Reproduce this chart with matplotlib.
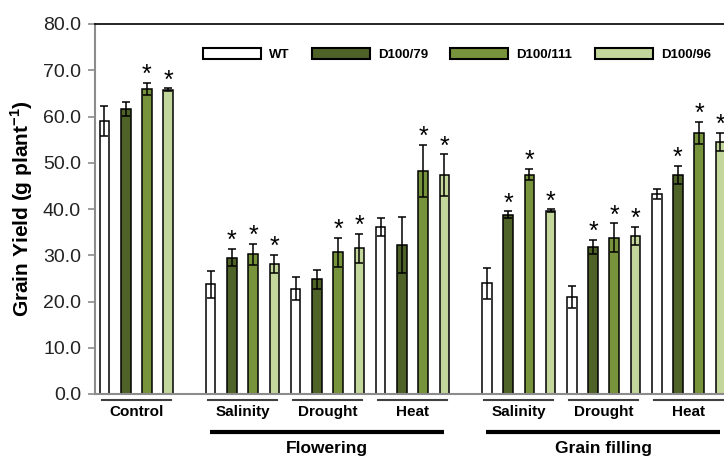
import numpy as np
import matplotlib
matplotlib.use("Agg")
import matplotlib.pyplot as plt
from matplotlib.patches import Patch

plt.rcParams["font.family"] = ["Liberation Sans", "DejaVu Sans"]
plt.rcParams["mathtext.fontset"] = "custom"
plt.rcParams["mathtext.bf"] = "Liberation Sans:bold"
plt.rcParams["mathtext.rm"] = "Liberation Sans"

# conditions (control + stress at two stages)
conditions = ["Control", "Salinity", "Drought", "Heat", "Salinity", "Drought", "Heat"]
stages = ["Flowering", "Grain filling"]
lines = ["WT", "D100/79", "D100/111", "D100/96"]

wt = [59.0, 23.7, 22.8, 36.1, 23.9, 21.0, 43.3]
wt_err = [3.2, 3.0, 2.5, 2.0, 3.4, 2.4, 1.1]
d79 = [61.7, 29.5, 24.8, 32.2, 38.8, 31.8, 47.3]
d79_err = [1.5, 1.8, 2.1, 6.1, 0.7, 1.6, 2.0]
d111 = [66.0, 30.2, 30.6, 48.2, 47.4, 33.8, 56.4]
d111_err = [1.3, 2.2, 3.2, 5.7, 1.2, 3.1, 2.4]
d96 = [65.8, 28.1, 31.5, 47.3, 39.6, 34.2, 54.5]
d96_err = [0.3, 1.9, 3.1, 4.5, 0.3, 1.9, 1.9]

# significance stars (1 = marked)
sig_wt = [0, 0, 0, 0, 0, 0, 0]
sig79 = [0, 1, 0, 0, 1, 1, 1]
sig111 = [1, 1, 1, 1, 1, 1, 1]
sig96 = [1, 1, 1, 1, 1, 1, 1]

colors = ["#ffffff", "#4f6228", "#77933c", "#c3d69b"]

values = [wt, d79, d111, d96]
errors = [wt_err, d79_err, d111_err, d96_err]
sigs = [sig_wt, sig79, sig111, sig96]

# slot index of the first bar in each condition group (empty slot after control and after flowering)
group_start = np.array([0, 5, 9, 13, 18, 22, 26])

fig = plt.figure(figsize=(7.24, 4.57), dpi=100)
ax = fig.add_axes([95 / 724, 63 / 457, 646.7 / 724, 370 / 457])

bw = 0.45
for k in range(4):
    x = group_start + k
    ax.bar(x, values[k], width=bw, color=colors[k], edgecolor="black",
           linewidth=1.1, zorder=2)
    ax.errorbar(x, values[k], yerr=errors[k], fmt="none", ecolor="black",
                elinewidth=1.1, capsize=3, capthick=1.1, zorder=3)
    for xi, v, e, s in zip(x, values[k], errors[k], sigs[k]):
        if s:
            ax.text(xi, v + e + 0.2, "*", ha="center", va="baseline",
                    fontsize=18, color="black", zorder=4)

ax.set_xlim(-0.447, 30)
ax.set_ylim(0, 80)
ax.set_yticks(np.arange(0, 81, 10))
ax.set_yticklabels([f"{t:.1f}" for t in np.arange(0, 81, 10)], fontsize=14,
                   color="#222222")
ax.tick_params(axis="y", length=5, width=1.2, color="#8c8c8c", pad=5)
ax.set_xticks([])

for side in ["left", "bottom"]:
    ax.spines[side].set_color("#8c8c8c")
    ax.spines[side].set_linewidth(1.5)
ax.spines["top"].set_color("black")
ax.spines["top"].set_linewidth(1.2)
ax.spines["right"].set_visible(False)

ax.set_ylabel("Grain Yield (g plant$^{\\mathbf{-1}}$)", fontsize=15, fontweight="bold",
              labelpad=6)

# condition labels with underline
trans = ax.get_xaxis_transform()
for start, name in zip(group_start, conditions):
    c = start + 1.5
    ax.plot([c - 1.62, c + 1.62], [-0.016, -0.016], transform=trans, color="#404040",
            lw=1.5, clip_on=False)
    ax.text(c, -0.048, name, transform=trans, ha="center", va="center",
            fontsize=11, fontweight="bold")

# stage labels with thick underline
stage_groups = [(1, 3), (4, 6)]
for (g0, g1), name in zip(stage_groups, stages):
    x0 = group_start[g0] - 0.05
    x1 = group_start[g1] + 3.0
    ax.plot([x0, x1], [-0.103, -0.103], transform=trans, color="black",
            lw=3, clip_on=False, solid_capstyle="butt")
    ax.text((x0 + x1) / 2, -0.146, name, transform=trans, ha="center", va="center",
            fontsize=12.5, fontweight="bold")

handles = [Patch(facecolor=c, edgecolor="black", linewidth=1.5) for c in colors]
leg = ax.legend(handles, lines, loc="upper left", ncol=4, frameon=False,
                bbox_to_anchor=((203 - 95) / 646.7, (394 - 48) / 370),
                borderaxespad=0, borderpad=0, handlelength=4.4, handleheight=0.85,
                handletextpad=0.6, columnspacing=1.7,
                prop={"weight": "bold", "size": 9.5})

fig.savefig("out.png", dpi=100)
